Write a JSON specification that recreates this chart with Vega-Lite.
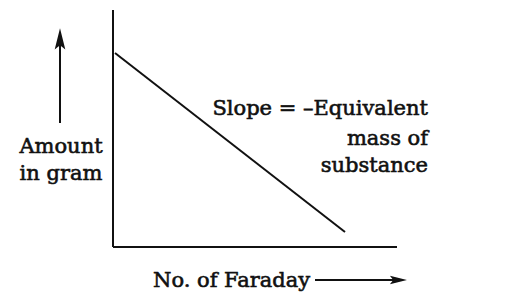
{
  "$schema": "https://vega.github.io/schema/vega-lite/v6.json",
  "width": 507,
  "height": 298,
  "padding": 0,
  "autosize": {"type": "fit", "contains": "padding"},
  "background": "white",
  "config": {"view": {"stroke": null}},
  "datasets": {
    "segments": [
      {"part": "y axis", "x": 0, "y": 0, "x2": 0, "y2": 237},
      {"part": "x axis", "x": 0, "y": 0, "x2": 284, "y2": 0},
      {"part": "amount vs faraday", "x": 2, "y": 194, "x2": 232, "y2": 15},
      {"part": "up arrow shaft", "x": -53, "y": 124, "x2": -53, "y2": 212},
      {"part": "right arrow shaft", "x": 202, "y": -33, "x2": 286, "y2": -33}
    ],
    "heads": [
      {"part": "up arrow head", "x": -53, "y": 207, "angle": 0, "size": 560},
      {"part": "right arrow head", "x": 284.5, "y": -33, "angle": 90, "size": 360}
    ],
    "labels": [
      {"text": "Amount", "x": -52, "y": 94, "align": "center"},
      {"text": "in gram", "x": -52, "y": 67, "align": "center"},
      {"text": "Slope = –Equivalent", "x": 315, "y": 132, "align": "right"},
      {"text": "mass of", "x": 315, "y": 102, "align": "right"},
      {"text": "substance", "x": 315, "y": 75, "align": "right"},
      {"text": "No. of Faraday", "x": 40, "y": -40, "align": "left"}
    ]
  },
  "layer": [
    {
      "data": {"name": "segments"},
      "mark": {"type": "rule", "color": "#111111", "strokeWidth": 2, "clip": false},
      "encoding": {
        "x": {"field": "x", "type": "quantitative", "scale": {"domain": [-113, 394], "nice": false, "zero": false}, "axis": null},
        "y": {"field": "y", "type": "quantitative", "scale": {"domain": [-51, 247], "nice": false, "zero": false}, "axis": null},
        "x2": {"field": "x2"},
        "y2": {"field": "y2"}
      }
    },
    {
      "data": {"name": "heads"},
      "mark": {"type": "point", "shape": "M0,-1L0.45,0.8L0,0.45L-0.45,0.8Z", "filled": true, "color": "#111111", "opacity": 1, "clip": false},
      "encoding": {
        "x": {"field": "x", "type": "quantitative", "scale": {"domain": [-113, 394], "nice": false, "zero": false}, "axis": null},
        "y": {"field": "y", "type": "quantitative", "scale": {"domain": [-51, 247], "nice": false, "zero": false}, "axis": null},
        "angle": {"field": "angle", "type": "quantitative", "scale": null},
        "size": {"field": "size", "type": "quantitative", "scale": null}
      }
    },
    {
      "data": {"name": "labels"},
      "transform": [{"filter": "datum.align === 'center'"}],
      "mark": {"type": "text", "align": "center", "baseline": "alphabetic", "font": "DejaVu Serif", "fontSize": 21, "fill": "#111111", "stroke": "#111111", "strokeWidth": 0.6, "clip": false},
      "encoding": {
        "x": {"field": "x", "type": "quantitative", "scale": {"domain": [-113, 394], "nice": false, "zero": false}, "axis": null},
        "y": {"field": "y", "type": "quantitative", "scale": {"domain": [-51, 247], "nice": false, "zero": false}, "axis": null},
        "text": {"field": "text"}
      }
    },
    {
      "data": {"name": "labels"},
      "transform": [{"filter": "datum.align === 'right'"}],
      "mark": {"type": "text", "align": "right", "baseline": "alphabetic", "font": "DejaVu Serif", "fontSize": 21, "fill": "#111111", "stroke": "#111111", "strokeWidth": 0.6, "clip": false},
      "encoding": {
        "x": {"field": "x", "type": "quantitative", "scale": {"domain": [-113, 394], "nice": false, "zero": false}, "axis": null},
        "y": {"field": "y", "type": "quantitative", "scale": {"domain": [-51, 247], "nice": false, "zero": false}, "axis": null},
        "text": {"field": "text"}
      }
    },
    {
      "data": {"name": "labels"},
      "transform": [{"filter": "datum.align === 'left'"}],
      "mark": {"type": "text", "align": "left", "baseline": "alphabetic", "font": "DejaVu Serif", "fontSize": 21, "fill": "#111111", "stroke": "#111111", "strokeWidth": 0.6, "clip": false},
      "encoding": {
        "x": {"field": "x", "type": "quantitative", "scale": {"domain": [-113, 394], "nice": false, "zero": false}, "axis": null},
        "y": {"field": "y", "type": "quantitative", "scale": {"domain": [-51, 247], "nice": false, "zero": false}, "axis": null},
        "text": {"field": "text"}
      }
    }
  ]
}
